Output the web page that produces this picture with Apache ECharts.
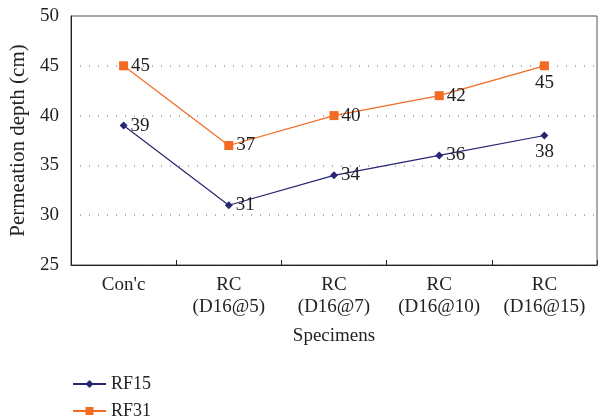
<!DOCTYPE html>
<html><head><meta charset="utf-8">
<script src="https://cdn.jsdelivr.net/npm/echarts@6/dist/echarts.min.js"></script>
<style>html,body{margin:0;padding:0;background:#fff}#c{width:603px;height:420px}</style>
</head><body><div id="c"></div>
<script>
var categories = ["Con'c", "RC\n(D16@5)", "RC\n(D16@7)", "RC\n(D16@10)", "RC\n(D16@15)"];
var rf15 = [39, 31, 34, 36, 38];
var rf31 = [45, 37, 40, 42, 45];
var yTicks = [25, 30, 35, 40, 45, 50];
var F = "Liberation Serif";
function lbl(arr) {
  return arr.map(function (v, i) {
    if (i === arr.length - 1) return {value: v, label: {position: 'bottom', distance: 3}};
    return v;
  });
}
var legendCommon = {
  orient: 'horizontal', left: 67, itemWidth: 33, itemHeight: 10,
  textStyle: {fontFamily: F, fontSize: 18, color: '#222'}
};
var chart = echarts.init(document.getElementById('c'));
chart.setOption({
  animation: false,
  textStyle: {fontFamily: F},
  grid: {left: 67, right: 6, top: 16, bottom: 155, show: true, borderColor: '#555', borderWidth: 1},
  xAxis: {
    type: 'category', data: categories, boundaryGap: true,
    name: 'Specimens', nameLocation: 'middle', nameGap: 62,
    nameTextStyle: {fontFamily: F, fontSize: 19, color: '#222'},
    axisLine: {lineStyle: {color: '#222', width: 1}},
    axisTick: {show: true, inside: true, length: 5, interval: 0, lineStyle: {color: '#222'}},
    axisLabel: {interval: 0, fontFamily: F, fontSize: 19, color: '#222', margin: 9, lineHeight: 22}
  },
  yAxis: {
    type: 'value', min: yTicks[0], max: yTicks[yTicks.length - 1], interval: 5,
    name: 'Permeation depth (cm)', nameLocation: 'middle', nameGap: 42,
    nameTextStyle: {fontFamily: F, fontSize: 21, color: '#222'},
    axisLine: {show: true, lineStyle: {color: '#222', width: 1}},
    axisTick: {show: false},
    axisLabel: {fontFamily: F, fontSize: 19, color: '#222', margin: 12},
    splitLine: {show: true, lineStyle: {color: '#999', type: [1, 8], width: 1.5}}
  },
  legend: [
    Object.assign({}, legendCommon, {top: 370, data: [{name: 'RF15'}]}),
    Object.assign({}, legendCommon, {top: 397, data: [{name: 'RF31'}]})
  ],
  series: [
    {
      name: 'RF15', type: 'line', data: lbl(rf15),
      symbol: 'diamond', symbolSize: 8,
      itemStyle: {color: '#262673'}, lineStyle: {color: '#262673', width: 1.2},
      label: {show: true, position: 'right', distance: 3, fontFamily: F, fontSize: 19, color: '#222'}
    },
    {
      name: 'RF31', type: 'line', data: lbl(rf31),
      symbol: 'rect', symbolSize: 9,
      itemStyle: {color: '#f36a22'}, lineStyle: {color: '#f36a22', width: 1.2},
      label: {show: true, position: 'right', distance: 3, fontFamily: F, fontSize: 19, color: '#222'}
    }
  ]
});
</script></body></html>
